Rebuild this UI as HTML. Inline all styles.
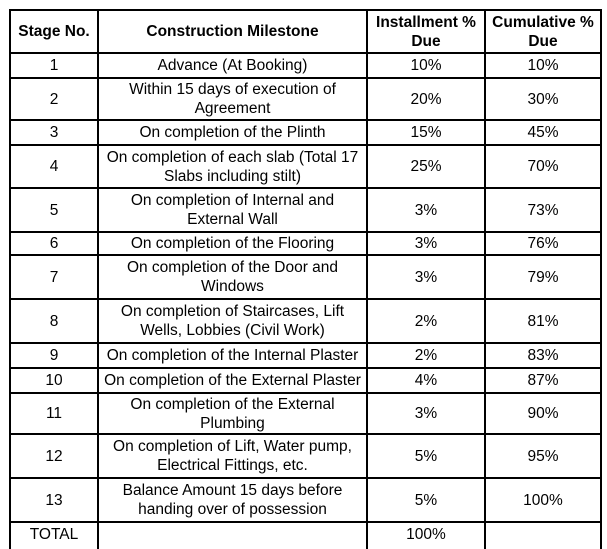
<!DOCTYPE html>
<html>
<head>
<meta charset="utf-8">
<style>
  html, body { margin:0; padding:0; background:#fff; }
  body { width:607px; height:540px; position:relative; overflow:hidden;
         font-family:"Liberation Sans", Arial, sans-serif; color:#000; }
  .h { position:absolute; left:9px; width:593px; height:2px; background:#000; }
  .v { position:absolute; top:9px; width:2px; height:540px; background:#000; }
  .c { position:absolute; display:flex; align-items:center; justify-content:center;
       text-align:center; font-size:15.5px; line-height:19px; white-space:nowrap; }
  .b { font-weight:bold; }
</style>
</head>
<body>
<!-- horizontal lines -->
<div class="h" style="top:9px"></div>
<div class="h" style="top:52px"></div>
<div class="h" style="top:77px"></div>
<div class="h" style="top:119px"></div>
<div class="h" style="top:144px"></div>
<div class="h" style="top:187px"></div>
<div class="h" style="top:231px"></div>
<div class="h" style="top:254px"></div>
<div class="h" style="top:298px"></div>
<div class="h" style="top:342px"></div>
<div class="h" style="top:367px"></div>
<div class="h" style="top:392px"></div>
<div class="h" style="top:433px"></div>
<div class="h" style="top:477px"></div>
<div class="h" style="top:521px"></div>
<!-- vertical lines -->
<div class="v" style="left:9px"></div>
<div class="v" style="left:97px"></div>
<div class="v" style="left:366px"></div>
<div class="v" style="left:484px"></div>
<div class="v" style="left:600px"></div>

<!-- header -->
<div class="c b" style="left:11px;width:86px;top:11px;height:41px">Stage No.</div>
<div class="c b" style="left:99px;width:267px;top:11px;height:41px">Construction Milestone</div>
<div class="c b" style="left:368px;width:116px;top:11px;height:41px">Installment %<br>Due</div>
<div class="c b" style="left:486px;width:114px;top:11px;height:41px">Cumulative %<br>Due</div>

<!-- rows: top/height -->
<!-- 1 -->
<div class="c" style="left:11px;width:86px;top:54px;height:23px">1</div>
<div class="c" style="left:99px;width:267px;top:54px;height:23px">Advance (At Booking)</div>
<div class="c" style="left:368px;width:116px;top:54px;height:23px">10%</div>
<div class="c" style="left:486px;width:114px;top:54px;height:23px">10%</div>
<!-- 2 -->
<div class="c" style="left:11px;width:86px;top:79px;height:40px">2</div>
<div class="c" style="left:99px;width:267px;top:79px;height:40px">Within 15 days of execution of<br>Agreement</div>
<div class="c" style="left:368px;width:116px;top:79px;height:40px">20%</div>
<div class="c" style="left:486px;width:114px;top:79px;height:40px">30%</div>
<!-- 3 -->
<div class="c" style="left:11px;width:86px;top:121px;height:23px">3</div>
<div class="c" style="left:99px;width:267px;top:121px;height:23px">On completion of the Plinth</div>
<div class="c" style="left:368px;width:116px;top:121px;height:23px">15%</div>
<div class="c" style="left:486px;width:114px;top:121px;height:23px">45%</div>
<!-- 4 -->
<div class="c" style="left:11px;width:86px;top:146px;height:41px">4</div>
<div class="c" style="left:99px;width:267px;top:146px;height:41px">On completion of each slab (Total 17<br>Slabs including stilt)</div>
<div class="c" style="left:368px;width:116px;top:146px;height:41px">25%</div>
<div class="c" style="left:486px;width:114px;top:146px;height:41px">70%</div>
<!-- 5 -->
<div class="c" style="left:11px;width:86px;top:189px;height:42px">5</div>
<div class="c" style="left:99px;width:267px;top:189px;height:42px">On completion of Internal and<br>External Wall</div>
<div class="c" style="left:368px;width:116px;top:189px;height:42px">3%</div>
<div class="c" style="left:486px;width:114px;top:189px;height:42px">73%</div>
<!-- 6 -->
<div class="c" style="left:11px;width:86px;top:233px;height:21px">6</div>
<div class="c" style="left:99px;width:267px;top:233px;height:21px">On completion of the Flooring</div>
<div class="c" style="left:368px;width:116px;top:233px;height:21px">3%</div>
<div class="c" style="left:486px;width:114px;top:233px;height:21px">76%</div>
<!-- 7 -->
<div class="c" style="left:11px;width:86px;top:256px;height:42px">7</div>
<div class="c" style="left:99px;width:267px;top:256px;height:42px">On completion of the Door and<br>Windows</div>
<div class="c" style="left:368px;width:116px;top:256px;height:42px">3%</div>
<div class="c" style="left:486px;width:114px;top:256px;height:42px">79%</div>
<!-- 8 -->
<div class="c" style="left:11px;width:86px;top:300px;height:42px">8</div>
<div class="c" style="left:99px;width:267px;top:300px;height:42px">On completion of Staircases, Lift<br>Wells, Lobbies (Civil Work)</div>
<div class="c" style="left:368px;width:116px;top:300px;height:42px">2%</div>
<div class="c" style="left:486px;width:114px;top:300px;height:42px">81%</div>
<!-- 9 -->
<div class="c" style="left:11px;width:86px;top:344px;height:23px">9</div>
<div class="c" style="left:99px;width:267px;top:344px;height:23px">On completion of the Internal Plaster</div>
<div class="c" style="left:368px;width:116px;top:344px;height:23px">2%</div>
<div class="c" style="left:486px;width:114px;top:344px;height:23px">83%</div>
<!-- 10 -->
<div class="c" style="left:11px;width:86px;top:369px;height:23px">10</div>
<div class="c" style="left:99px;width:267px;top:369px;height:23px">On completion of the External Plaster</div>
<div class="c" style="left:368px;width:116px;top:369px;height:23px">4%</div>
<div class="c" style="left:486px;width:114px;top:369px;height:23px">87%</div>
<!-- 11 -->
<div class="c" style="left:11px;width:86px;top:394px;height:39px">11</div>
<div class="c" style="left:99px;width:267px;top:394px;height:39px">On completion of the External<br>Plumbing</div>
<div class="c" style="left:368px;width:116px;top:394px;height:39px">3%</div>
<div class="c" style="left:486px;width:114px;top:394px;height:39px">90%</div>
<!-- 12 -->
<div class="c" style="left:11px;width:86px;top:435px;height:42px">12</div>
<div class="c" style="left:99px;width:267px;top:435px;height:42px">On completion of Lift, Water pump,<br>Electrical Fittings, etc.</div>
<div class="c" style="left:368px;width:116px;top:435px;height:42px">5%</div>
<div class="c" style="left:486px;width:114px;top:435px;height:42px">95%</div>
<!-- 13 -->
<div class="c" style="left:11px;width:86px;top:479px;height:42px">13</div>
<div class="c" style="left:99px;width:267px;top:479px;height:42px">Balance Amount 15 days before<br>handing over of possession</div>
<div class="c" style="left:368px;width:116px;top:479px;height:42px">5%</div>
<div class="c" style="left:486px;width:114px;top:479px;height:42px">100%</div>
<!-- total -->
<div class="c" style="left:11px;width:86px;top:523px;height:22px">TOTAL</div>
<div class="c" style="left:368px;width:116px;top:523px;height:22px">100%</div>
</body>
</html>
